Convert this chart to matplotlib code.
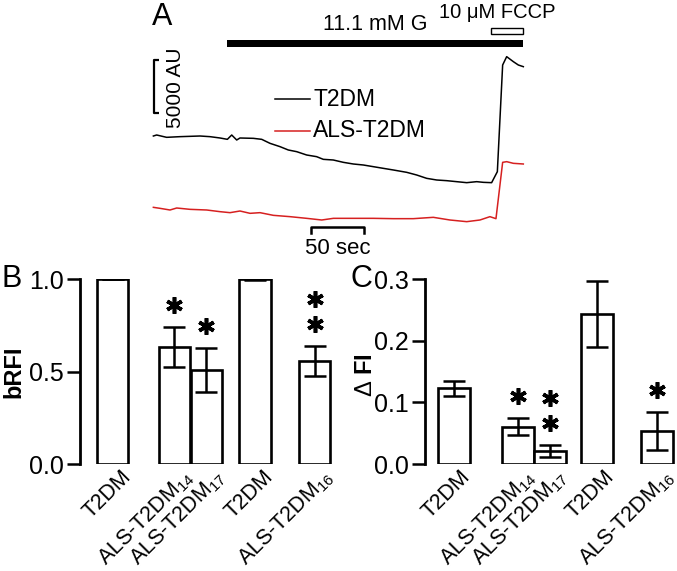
import matplotlib
matplotlib.use("Agg")
import matplotlib.pyplot as plt
from matplotlib.patches import Rectangle
import matplotlib.transforms as mtransforms

plt.rcParams['font.family'] = ['Liberation Sans', 'DejaVu Sans']
plt.rcParams['mathtext.fontset'] = 'custom'
plt.rcParams['mathtext.rm'] = 'Liberation Sans'
plt.rcParams['mathtext.it'] = 'Liberation Sans:italic'
plt.rcParams['mathtext.bf'] = 'Liberation Sans:bold'

# ---------------- data ----------------
# Panel A traces (time in s, fluorescence in AU)
t_black = [1.3, 4.4, 13.8, 26.4, 45.3, 54.7, 64.2, 71.1, 75.2, 79.9, 83.0, 95.6, 103.5,
           111.3, 120.8, 128.6, 136.5, 145.9, 155.3, 161.6, 171.0, 180.5, 189.9, 199.4,
           208.8, 218.2, 227.7, 240.3, 249.7, 259.1, 268.6, 278.0, 287.4, 296.9, 306.3,
           312.6, 320.4, 325.8, 330.8, 334.6, 340.9, 345.6, 350.3]
au_black = [9183, 9278, 9058, 9121, 9183, 9121, 8995, 8869, 9278, 8806, 8995, 8963, 8869,
            8492, 8177, 7863, 7705, 7391, 7234, 6982, 6919, 6699, 6542, 6447,
            6290, 6133, 5976, 5755, 5504, 5189, 5032, 4969, 4875, 4780, 4875,
            4812, 4780, 5818, 15882, 16669, 16197, 15882, 15725]
t_red = [1.3, 7.5, 17.0, 23.3, 35.8, 51.6, 64.2, 73.6, 83.0, 92.5, 101.9, 114.5, 130.2,
         145.9, 160.1, 171.1, 183.6, 208.8, 227.7, 246.5, 265.4, 281.1, 296.9, 309.4,
         318.8, 324.5, 330.8, 334.6, 340.9, 350.3]
au_red = [2453, 2359, 2202, 2390, 2264, 2202, 2044, 1950, 2107, 1887, 1950, 1698, 1573,
          1415, 1258, 1415, 1415, 1415, 1384, 1384, 1510, 1258, 1101, 1258,
          1573, 1384, 6699, 6762, 6605, 6542]
glucose_on = [70.8, 350.0]     # s
fccp_on = [319.8, 350.0]       # s
scale_au = 5000
scale_sec = 50

# Panels B and C
group_labels = ['T2DM', 'ALS-T2DM$_{14}$', 'ALS-T2DM$_{17}$', 'T2DM', 'ALS-T2DM$_{16}$']
b_mean = [1.0, 0.632, 0.509, 1.0, 0.558]
b_sem = [0.0, 0.108, 0.119, 0.004, 0.081]
b_stars = [0, 1, 1, 0, 2]
c_mean = [0.123, 0.0605, 0.0216, 0.244, 0.0535]
c_sem = [0.012, 0.014, 0.0095, 0.054, 0.031]
c_stars = [0, 1, 2, 0, 1]

# ---------------- layout ----------------
W, H = 677, 571
fig = plt.figure(figsize=(W / 100, H / 100), dpi=100)


def px_rect(x0, y0, x1, y1):
    return [x0 / W, 1 - y1 / H, (x1 - x0) / W, (y1 - y0) / H]


# ---------------- Panel A ----------------
axA = fig.add_axes(px_rect(152, 0, 523, 250))
axA.set_xlim(0, 350)
au_per_px = 3 * 31.45
YTOP = 22015
axA.set_ylim(YTOP - 250 * au_per_px, YTOP)
axA.axis('off')
axA.plot(t_black, au_black, color='black', lw=1.1, clip_on=False)
axA.plot(t_red, au_red, color='#d62020', lw=1.1, clip_on=False)

# stimulus bars
y_g0 = YTOP - 47 * au_per_px
axA.add_patch(Rectangle((glucose_on[0], y_g0), glucose_on[1] - glucose_on[0], 7 * au_per_px,
                        facecolor='black', edgecolor='black', lw=0, clip_on=False))
y_f0 = YTOP - 34 * au_per_px
axA.add_patch(Rectangle((fccp_on[0], y_f0), fccp_on[1] - fccp_on[0], 6 * au_per_px,
                        facecolor='white', edgecolor='black', lw=1.0, clip_on=False))
axA.text(211, YTOP - 24.5 * au_per_px, '11.1 mM G', ha='center', va='center', fontsize=15.5)
axA.text(326, YTOP - 12.5 * au_per_px, '10 μM FCCP', ha='center', va='center', fontsize=14.5)

# vertical scale bar
sx = 2.0
ytop = YTOP - 60 * au_per_px
axA.plot([sx + 4.5, sx, sx, sx + 4.5], [ytop, ytop, ytop - scale_au, ytop - scale_au],
         color='black', lw=1.6, clip_on=False, solid_capstyle='butt')
axA.text(21.7, ytop - scale_au / 2 - 1.5 * au_per_px, '%d AU' % scale_au, rotation=90,
         ha='center', va='center', fontsize=15)

# time scale bar
tx0 = 150.0
yb = YTOP - 227.3 * au_per_px
axA.plot([tx0, tx0, tx0 + scale_sec, tx0 + scale_sec],
         [yb - 6 * au_per_px, yb, yb, yb - 6 * au_per_px],
         color='black', lw=1.8, clip_on=False)
axA.text(tx0 + scale_sec / 2, YTOP - 248 * au_per_px, '%d sec' % scale_sec,
         ha='center', va='center', fontsize=16)

# legend
for yy, lab, col in [(99.3, 'T2DM', 'black'), (130.7, 'ALS-T2DM', '#d62020')]:
    yv = YTOP - yy * au_per_px
    axA.plot([116, 149], [yv, yv], color=col, lw=1.1)
    axA.text(152, yv, lab, ha='left', va='center', fontsize=16.5)

fig.text(162 / W, 1 - 17 / H, 'A', ha='center', va='center', fontsize=22)


# ---------------- Bar panels ----------------
def bar_panel(rect, xstart, pos, mean, sem, stars, ymax, yticks, ticklabels, dx_px):
    ax = fig.add_axes(rect)
    ax.bar(pos, mean, width=0.99, facecolor='white', edgecolor='black', linewidth=1.9,
           zorder=2)
    ax.errorbar(pos, mean, yerr=sem, fmt='none', ecolor='black', elinewidth=1.8,
                capsize=8, capthick=1.8, zorder=3)
    ax.set_xlim(xstart, xstart + rect[2] * W / 32)
    ax.set_ylim(0, ymax)
    for s in ['top', 'right', 'bottom']:
        ax.spines[s].set_visible(False)
    ax.spines['left'].set_linewidth(2.0)
    ax.spines['left'].set_bounds(0, ymax)
    ax.set_yticks(yticks)
    ax.set_yticklabels(ticklabels, fontsize=18)
    ax.tick_params(axis='y', length=9.5, width=1.8, pad=2)
    ax.set_xticks([])
    trans = mtransforms.blended_transform_factory(ax.transData, ax.transAxes)
    off = mtransforms.ScaledTranslation(dx_px / 100, -2 / 100, fig.dpi_scale_trans)
    for x, lab in zip(pos, group_labels):
        ax.text(x, 0, lab, transform=trans + off, rotation=45, ha='right', va='top',
                rotation_mode='anchor', fontsize=15.5)
    # significance asterisks
    px_per_unit = 184.7 / ymax
    for x, m, e, n in zip(pos, mean, sem, stars):
        for k in range(n):
            yv = m + e + (22 + 25 * k) / px_per_unit
            ax.plot([x], [yv], marker=(6, 2, 0), markersize=12, markeredgewidth=2.6,
                    color='black', clip_on=False, zorder=4)
    return ax


posB = [0, 1.93, 2.93, 4.44, 6.31]
posC = [0, 2.0, 3.0, 4.48, 6.36]
axB = bar_panel(px_rect(80, 279.3, 340, 464), -1.02, posB, b_mean, b_sem, b_stars,
                1.0, [0, 0.5, 1.0], ['0.0', '0.5', '1.0'], 8)
axC = bar_panel(px_rect(425, 279.3, 677, 464), -0.9, posC, c_mean, c_sem, c_stars,
                0.3, [0, 0.1, 0.2, 0.3], ['0.0', '0.1', '0.2', '0.3'], 6)

fig.text(12 / W, 1 - 279 / H, 'B', ha='center', va='center', fontsize=22)
fig.text(361 / W, 1 - 279 / H, 'C', ha='center', va='center', fontsize=22)
fig.text(14 / W, 1 - 372 / H, 'bRFI', rotation=90, ha='center', va='center',
         fontsize=17, fontweight='bold')
fig.text(366 / W, 1 - 375 / H, 'Δ $\\mathbf{FI}$', rotation=90, ha='center', va='center',
         fontsize=17)

fig.savefig('out.png', dpi=100)
